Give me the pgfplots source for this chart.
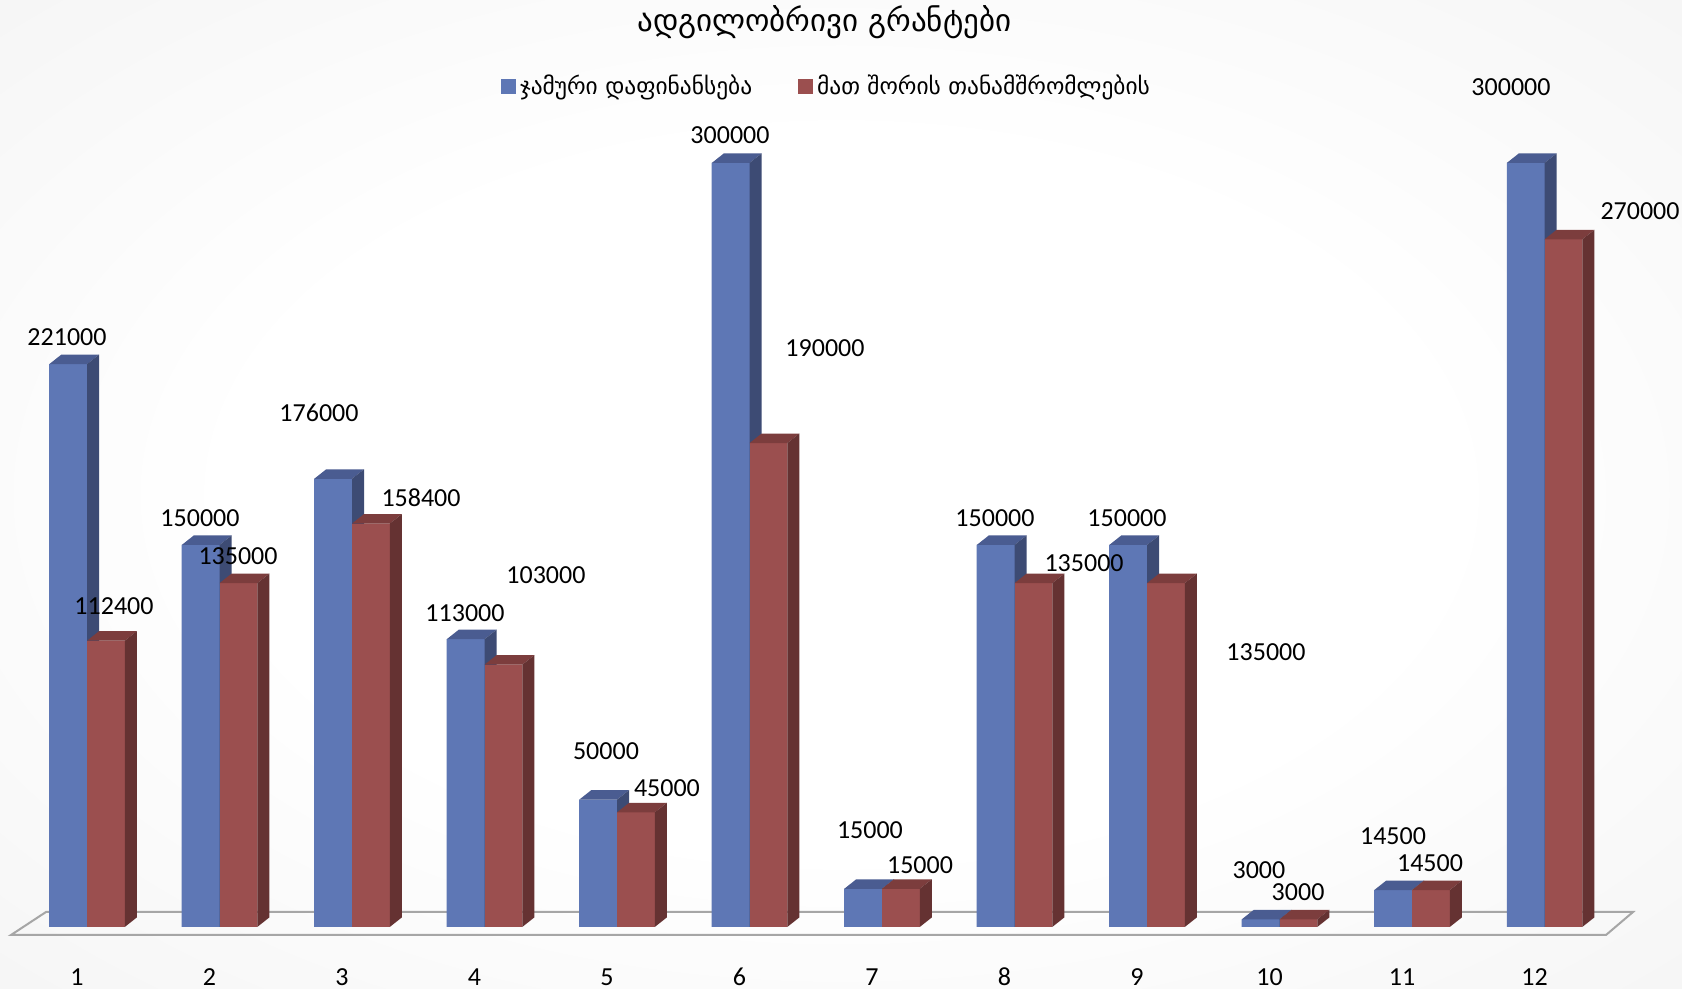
\documentclass[border=0pt]{standalone}
\usepackage{fontspec}
\setmainfont{Carlito}
\newfontfamily\geofont{DejaVu Sans}
\usepackage{pgfplots}
\usepackage{pgfplotstable}
\pgfplotsset{compat=1.18}

\definecolor{bfront}{HTML}{5E77B5}
\definecolor{btop}{HTML}{4A5C91}
\definecolor{bside}{HTML}{3D4B74}
\definecolor{rfront}{HTML}{9B4F4F}
\definecolor{rtop}{HTML}{7C3D3D}
\definecolor{rside}{HTML}{653232}
\definecolor{floorline}{HTML}{A6A6A6}

\pgfplotsset{
  sqlegend/.style={legend image code/.code={\fill[##1] (0pt,-3.75pt) rectangle (7.5pt,3.75pt);}},
}

% values of the two series
\pgfplotstableread{
k total staff
1 221000 112400
2 150000 135000
3 176000 158400
4 113000 103000
5 50000 45000
6 300000 190000
7 15000 15000
8 150000 135000
9 150000 135000
10 3000 3000
11 14500 14500
12 300000 270000
}\grants

% where the value labels stand (moved by hand in the original)
\pgfplotstableread{
x y t
0.849 231675 221000
1.204 126047 112400
1.853 160602 150000
2.140 145681 135000
2.751 201833 176000
3.521 168455 158400
3.853 123298 113000
4.464 138220 103000
4.917 69110 50000
5.377 54581 45000
5.853 310995 300000
6.570 227356 190000
6.909 38089 15000
7.287 24346 15000
7.853 160602 150000
8.525 142932 135000
8.849 160602 150000
9.898 107984 135000
9.845 22382 3000
10.140 13743 3000
10.857 35733 14500
11.136 25131 14500
11.747 329843 300000
12.721 281152 270000
}\vlabels

% bar height in pt from the raw value (fpu, values are too large for pgfmath)
\newcommand\barheight{%
  {\pgfkeys{/pgf/fpu=true,/pgf/fpu/output format=fixed}%
   \pgfmathparse{\rawy*0.00127333}\xdef\hh{\pgfmathresult}}}

% one 3d box: #1 left edge of the front face, #2 right edge, #3-#5 colours
\newcommand\drawbox[5]{%
  \barheight
  \pgfsetfillcolor{#3}%
  \pgfpathrectangle{\pgfpoint{#1}{-\hh pt}}{\pgfpoint{#2-#1}{\hh pt}}%
  \pgfusepath{fill}%
  \pgfsetfillcolor{#4}%
  \pgfpathmoveto{\pgfpoint{#1}{0pt}}%
  \pgfpathlineto{\pgfpoint{#2}{0pt}}%
  \pgfpathlineto{\pgfpoint{#2+6pt}{4.75pt}}%
  \pgfpathlineto{\pgfpoint{#1+6pt}{4.75pt}}%
  \pgfpathclose
  \pgfusepath{fill}%
  \pgfsetfillcolor{#5}%
  \pgfpathmoveto{\pgfpoint{#2}{0pt}}%
  \pgfpathlineto{\pgfpoint{#2+6pt}{4.75pt}}%
  \pgfpathlineto{\pgfpoint{#2+6pt}{4.75pt-\hh pt}}%
  \pgfpathlineto{\pgfpoint{#2}{-\hh pt}}%
  \pgfpathclose
  \pgfusepath{fill}%
}
\pgfdeclareplotmark{bluebox}{\drawbox{-18.88pt}{0pt}{bfront}{btop}{bside}}
\pgfdeclareplotmark{redbox}{\drawbox{0pt}{18.88pt}{rfront}{rtop}{rside}}

\pgfdeclareradialshading{bgshade}{\pgfpoint{0bp}{0bp}}{%
  color(0bp)=(white); color(18bp)=(white); color(71bp)=(black!11)}

\begin{document}
\begin{tikzpicture}
\begin{axis}[
    width=841pt, height=494.5pt,
    scale only axis,
    axis lines=none,
    xmin=0.34340, xmax=13.03774,
    ymin=-24345.5, ymax=364005,
    title={\geofont ადგილობრივი გრანტები},
    title style={at={(0.49,0.965)}, anchor=center, font=\fontsize{15.5}{18}\selectfont},
    legend style={
      at={(0.492,0.913)}, anchor=center,
      draw=none, fill=none,
      legend columns=2,
      font=\geofont\fontsize{11.7}{14}\selectfont,
      /tikz/every even column/.append style={column sep=21pt},
    },
    legend cell align=left,
  ]
  \shade[shading=bgshade] (rel axis cs:0,0) rectangle (rel axis cs:1,1);
  % floor
  \draw[floorline, line width=1pt] (axis cs:0.4264,-3141) -- (axis cs:12.464,-3141)
     -- (axis cs:12.668,5890) -- (axis cs:0.6906,5890) -- cycle;

  \addplot[ybar, bar width=0.285, bar shift=-0.1425, fill=bfront, draw=none, sqlegend]
    table[x=k, y=total] {\grants};
  \addlegendentry{ჯამური დაფინანსება}
  \addplot[ybar, bar width=0.285, bar shift=0.1425, fill=rfront, draw=none, sqlegend]
    table[x=k, y=staff] {\grants};
  \addlegendentry{მათ შორის თანამშრომლების}

  % the boxes drawn over the flat bars, blue first
  \addplot[only marks, mark=bluebox, forget plot,
    visualization depends on={rawy \as \rawy}]
    table[x=k, y=total] {\grants};
  \addplot[only marks, mark=redbox, forget plot,
    visualization depends on={rawy \as \rawy}]
    table[x=k, y=staff] {\grants};

  % value labels
  \addplot[only marks, mark=none, forget plot,
    nodes near coords, point meta=explicit symbolic,
    nodes near coords align={anchor=center},
    every node near coord/.append style={anchor=center, font=\fontsize{13}{15}\selectfont, text=black}]
    table[x=x, y=y, meta=t] {\vlabels};

  % category labels
  \addplot[only marks, mark=none, forget plot,
    nodes near coords, point meta=explicit symbolic,
    nodes near coords align={anchor=center},
    every node near coord/.append style={anchor=center, font=\fontsize{13}{15}\selectfont, text=black}]
    coordinates {
      (0.9245,-19634)[1] (1.9245,-19634)[2] (2.9245,-19634)[3] (3.9245,-19634)[4]
      (4.9245,-19634)[5] (5.9245,-19634)[6] (6.9245,-19634)[7] (7.9245,-19634)[8]
      (8.9245,-19634)[9] (9.9245,-19634)[10] (10.9245,-19634)[11] (11.9245,-19634)[12]
    };
\end{axis}
\pgfresetboundingbox
\path[use as bounding box] (current axis.south west) rectangle (current axis.north east);
\end{tikzpicture}
\end{document}
